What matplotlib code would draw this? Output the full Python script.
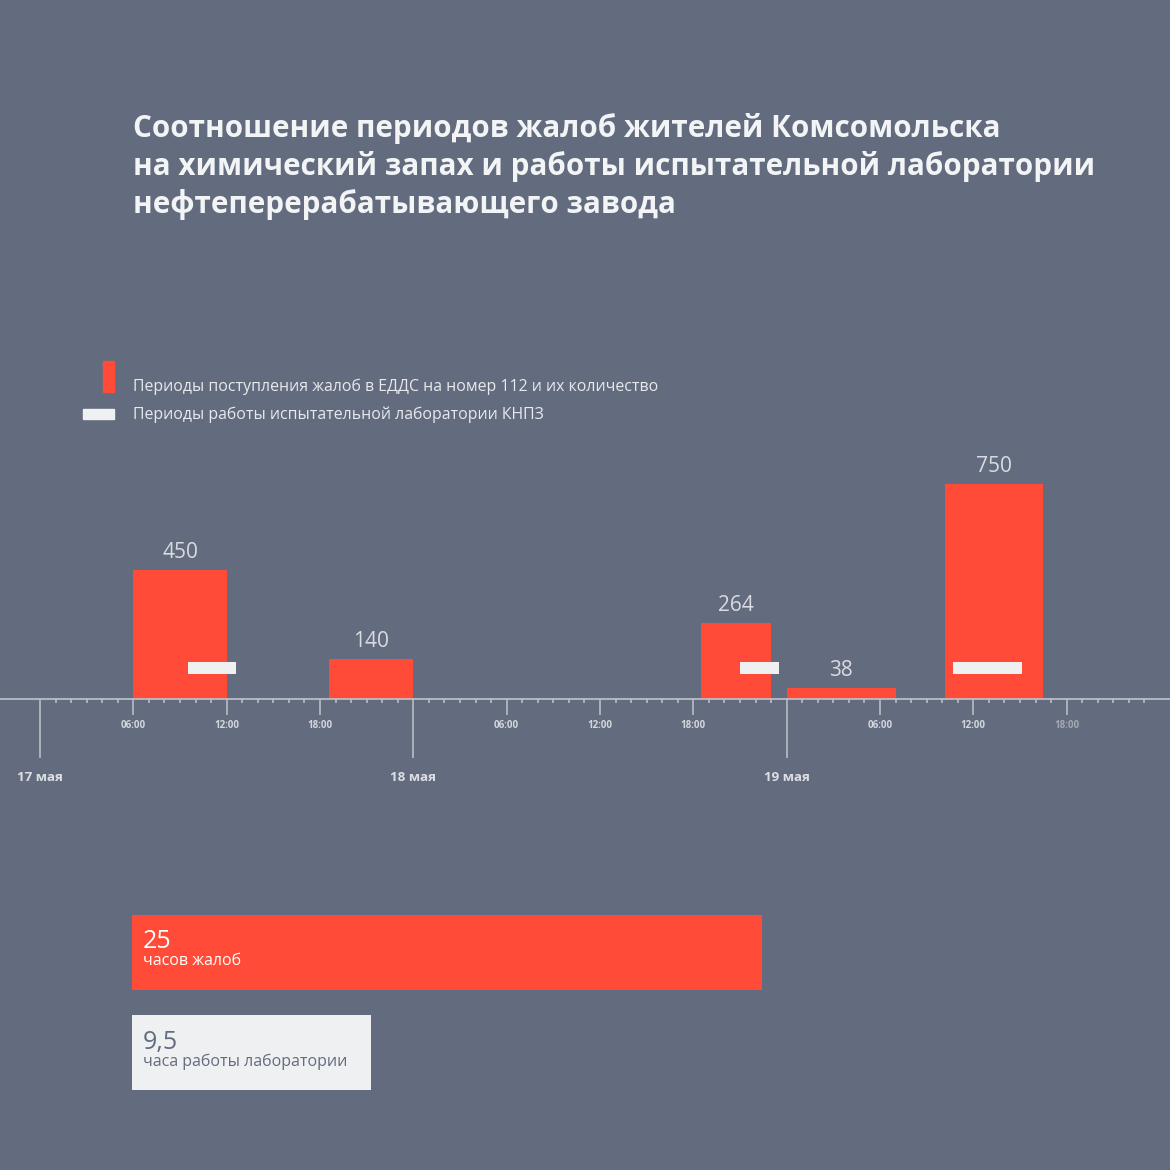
import matplotlib.pyplot as plt

plt.rcParams["font.family"] = ["Open Sans", "DejaVu Sans"]

# данные: часы от 17 мая 00:00
complaint_start = [6, 18.6, 42.5, 48, 58.2]
complaint_end = [12, 24, 47, 55, 64.5]
complaints = [450, 140, 264, 38, 750]
lab_start = [9.5, 45, 58.7]
lab_end = [12.6, 47.5, 63.1]
day_hours = [0, 24, 48]
day_labels = ["17 мая", "18 мая", "19 мая"]
hour_ticks = [6, 12, 18, 30, 36, 42, 54, 60, 66]
hour_labels = ["06:00", "12:00", "18:00"] * 3
totals = [25, 9.5]
total_labels = ["часов жалоб", "часа работы лаборатории"]
title_lines = [
    "Соотношение периодов жалоб жителей Комсомольска",
    "на химический запах и работы испытательной лаборатории",
    "нефтеперерабатывающего завода",
]
legend_labels = [
    "Периоды поступления жалоб в ЕДДС на номер 112 и их количество",
    "Периоды работы испытательной лаборатории КНПЗ",
]

BG = "#636c7e"
RED = "#ff4b37"
LIGHT = "#eff0f2"
AXIS = "#bfc3cb"
W = H = 1170


def fx(x):
    return x / W


def fy(y):
    return 1 - y / H


fig = plt.figure(figsize=(11.7, 11.7), dpi=100, facecolor=BG)

# заголовок
for i, line in enumerate(title_lines):
    fig.text(fx(133), fy(137 + 38 * i), line, color="#f3f4f6", fontsize=21.3,
             fontweight="bold", va="baseline", ha="left")

# легенда
fig.patches.append(plt.Rectangle((fx(103), fy(392)), 11 / W, 31 / H,
                                 transform=fig.transFigure, color=RED))
fig.patches.append(plt.Rectangle((fx(83), fy(419)), 31 / W, 10 / H,
                                 transform=fig.transFigure, color=LIGHT))
fig.text(fx(133), fy(391), legend_labels[0], color="#e8e9ec", fontsize=11.45,
         va="baseline")
fig.text(fx(133), fy(419), legend_labels[1], color="#e8e9ec", fontsize=11.45,
         va="baseline")

# основная временная шкала
px_h = 15.555
px_v = 0.2863
base_y = 698.7
top_y = 450
ax = fig.add_axes([0, fy(base_y), 1, (base_y - top_y) / H])
ax.set_facecolor("none")
ax.set_xlim(-40 / px_h, (W - 40) / px_h)
ax.set_ylim(0, (base_y - top_y) / px_v)

widths = [e - s for s, e in zip(complaint_start, complaint_end)]
ax.bar(complaint_start, complaints, width=widths, align="edge", color=RED,
       linewidth=0)
lab_w = [e - s for s, e in zip(lab_start, lab_end)]
lab_bottom = (base_y - 674) / px_v
lab_height = 12 / px_v
ax.bar(lab_start, [lab_height] * len(lab_start), width=lab_w,
       bottom=lab_bottom, align="edge", color=LIGHT, linewidth=0)

for s, w, v in zip(complaint_start, widths, complaints):
    ax.annotate(str(v), (s + w / 2, v), xytext=(0, 8.6),
                textcoords="offset points", ha="center", va="baseline",
                color="#d9dbe0", fontsize=15, annotation_clip=False)

for side in ["top", "right", "left"]:
    ax.spines[side].set_visible(False)
ax.spines["bottom"].set_color(AXIS)
ax.spines["bottom"].set_linewidth(1.2)
ax.set_yticks([])
ax.set_xticks(hour_ticks, labels=hour_labels)
ax.set_xticks([h for h in range(1, 72) if h % 6], minor=True)
ax.tick_params(axis="x", which="major", length=11.5, width=1.1, color=AXIS,
               pad=3.5, labelsize=7, labelcolor="#d3d6dc")
ax.tick_params(axis="x", which="minor", length=3.2, width=1.1, color=AXIS)
for lbl in ax.get_xticklabels():
    lbl.set_fontweight("bold")
ax.get_xticklabels()[-1].set_color("#a3a8b3")

sec = ax.secondary_xaxis("bottom")
sec.set_xticks(day_hours, labels=day_labels)
sec.spines["bottom"].set_visible(False)
sec.tick_params(length=42.5, width=1.1, color=AXIS, pad=9.5, labelsize=9.6,
                labelcolor="#dcdee3")
for lbl in sec.get_xticklabels():
    lbl.set_fontweight("bold")

# итоговые полосы
px_tot = 25.2
ax2 = fig.add_axes([fx(132), fy(1090), 1 - fx(132), 175 / H])
ax2.set_facecolor("none")
ax2.axis("off")
ax2.set_xlim(0, (W - 132) / px_tot)
ax2.set_ylim(1.373, -0.373)
ax2.barh([0, 1], totals, height=0.746, color=[RED, LIGHT], linewidth=0)

num_colors = ["#ffffff", BG]
for i, (t, lab) in enumerate(zip(totals, total_labels)):
    y0 = 948 + 100.5 * i
    fig.text(fx(143), fy(y0), f"{t:g}".replace(".", ","), color=num_colors[i],
             fontsize=18, va="baseline")
    fig.text(fx(143), fy(y0 + 17), lab, color=num_colors[i], fontsize=11.5,
             va="baseline")

fig.savefig("out.png", dpi=100, facecolor=BG)
